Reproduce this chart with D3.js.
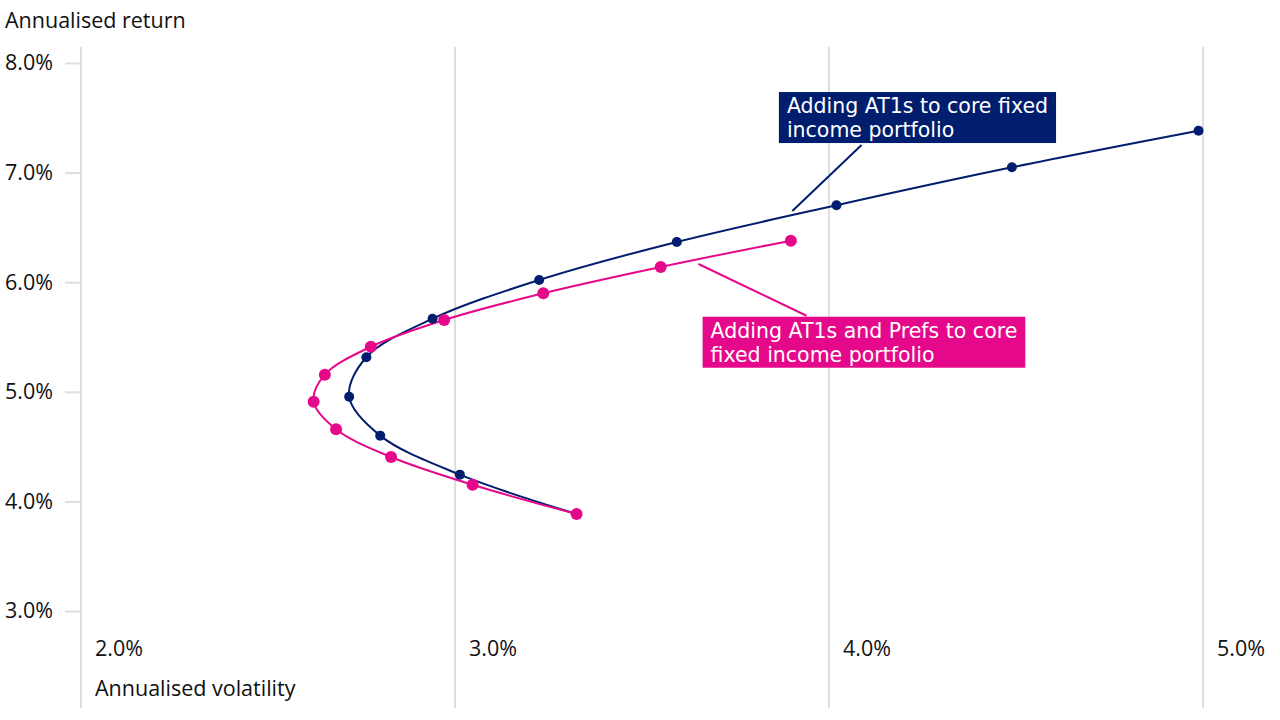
<!DOCTYPE html>
<html>
<head>
<meta charset="utf-8">
<script src="https://cdn.jsdelivr.net/npm/d3@7"></script>
<style>
  html, body { margin: 0; padding: 0; background: #fff; }
  svg { display: block; font-family: "Open Sans", "DejaVu Sans", sans-serif; }
</style>
</head>
<body>
<svg id="chart" width="1280" height="720"></svg>
<script>
// ---- Data ----
const xTicks = [2, 3, 4, 5];
const yTicks = [3, 4, 5, 6, 7, 8];
const xTickLabels = ["2.0%", "3.0%", "4.0%", "5.0%"];
const yTickLabels = ["3.0%", "4.0%", "5.0%", "6.0%", "7.0%", "8.0%"];
const xAxisTitle = "Annualised volatility";
const yAxisTitle = "Annualised return";

// Adding AT1s to core fixed income portfolio
const at1Vol = [3.325, 3.013, 2.800, 2.717, 2.763, 2.940, 3.225, 3.593, 4.020, 4.489, 4.988];
const at1Ret = [3.885, 4.244, 4.600, 4.955, 5.315, 5.667, 6.020, 6.367, 6.702, 7.048, 7.382];

// Adding AT1s and Prefs to core fixed income portfolio
const prefVol = [3.325, 3.047, 2.829, 2.682, 2.622, 2.652, 2.775, 2.971, 3.236, 3.550, 3.898];
const prefRet = [3.885, 4.152, 4.405, 4.658, 4.910, 5.156, 5.411, 5.655, 5.899, 6.139, 6.379];

const seriesNames = ["Adding AT1s to core fixed income portfolio",
                     "Adding AT1s and Prefs to core fixed income portfolio"];
const labelLines = [["Adding AT1s to core fixed", "income portfolio"],
                    ["Adding AT1s and Prefs to core", "fixed income portfolio"]];
// annotation: box top-left (data units) and leader line (data units)
const labelBoxX = [3.866, 3.662];
const labelBoxY = [7.735, 5.685];
const leaderFrom = [[4.087, 7.252], [3.940, 5.694]];
const leaderTo = [[3.902, 6.650], [3.651, 6.166]];

// ---- Layout ----
const colors = ["#001d6e", "#e6088a"];
const svg = d3.select("#chart");
const x = d3.scaleLinear().domain([2, 5]).range([81, 1203]);
const y = d3.scaleLinear().domain([3, 8]).range([611, 63]);
const gridTop = 47, gridBottom = 708;
const fs = 21.5;
const afs = 20.5;

// vertical gridlines
svg.append("g").selectAll("line").data(xTicks).join("line")
  .attr("x1", d => x(d)).attr("x2", d => x(d))
  .attr("y1", gridTop).attr("y2", gridBottom)
  .attr("stroke", "#dedede").attr("stroke-width", 2);

// y axis ticks and labels
const yAxis = d3.axisLeft(y).tickValues(yTicks).tickSize(16).tickPadding(12)
  .tickFormat((d, i) => yTickLabels[i]);
const yg = svg.append("g").attr("transform", `translate(${x(2)},0)`).call(yAxis);
yg.select(".domain").remove();
yg.selectAll(".tick line").attr("stroke", "#dedede").attr("stroke-width", 2);
yg.selectAll(".tick text").attr("fill", "#111").attr("font-size", fs)
  .attr("font-family", "Open Sans").attr("text-anchor", "start").attr("x", -76);

// x tick labels (to the right of gridlines)
svg.append("g").selectAll("text").data(xTicks).join("text")
  .attr("x", d => x(d) + 14).attr("y", 648)
  .attr("dy", "0.35em")
  .attr("font-size", fs).attr("fill", "#111")
  .text((d, i) => xTickLabels[i]);

// axis titles
svg.append("text").attr("x", 5).attr("y", 20).attr("dy", "0.35em")
  .attr("font-size", fs).attr("fill", "#111").text(yAxisTitle);
svg.append("text").attr("x", x(2) + 14).attr("y", 688).attr("dy", "0.35em")
  .attr("font-size", fs).attr("fill", "#111").text(xAxisTitle);

// series
const series = [
  at1Vol.map((v, i) => ({ x: v, y: at1Ret[i] })),
  prefVol.map((v, i) => ({ x: v, y: prefRet[i] }))
];
const line = d3.line().x(d => x(d.x)).y(d => y(d.y)).curve(d3.curveCatmullRom.alpha(0.5));
const radii = [5, 6];

// leader lines
leaderFrom.forEach((f, i) => {
  svg.append("line")
    .attr("x1", x(f[0])).attr("y1", y(f[1]))
    .attr("x2", x(leaderTo[i][0])).attr("y2", y(leaderTo[i][1]))
    .attr("stroke", colors[i]).attr("stroke-width", 2);
});

// draw lines (navy first, then pink), then points
series.forEach((s, i) => {
  svg.append("path").datum(s).attr("d", line)
    .attr("fill", "none").attr("stroke", colors[i]).attr("stroke-width", 2);
});
series.forEach((s, i) => {
  svg.append("g").selectAll("circle").data(s).join("circle")
    .attr("cx", d => x(d.x)).attr("cy", d => y(d.y)).attr("r", radii[i])
    .attr("fill", colors[i]);
});

// annotation boxes
labelLines.forEach((lines, i) => {
  const g = svg.append("g");
  const tx = x(labelBoxX[i]) + 8, ty = y(labelBoxY[i]);
  const texts = g.selectAll("text").data(lines).join("text")
    .attr("x", tx).attr("y", (d, j) => ty + 14 + j * 24.2).attr("dy", "0.35em")
    .attr("font-family", "DejaVu Sans")
    .attr("font-size", afs).attr("fill", "#fff").text(d => d);
  let maxW = 0;
  texts.each(function () { maxW = Math.max(maxW, this.getComputedTextLength()); });
  g.insert("rect", "text")
    .attr("x", x(labelBoxX[i])).attr("y", ty)
    .attr("width", maxW + 16).attr("height", 51)
    .attr("fill", colors[i]);
});
</script>
</body>
</html>
